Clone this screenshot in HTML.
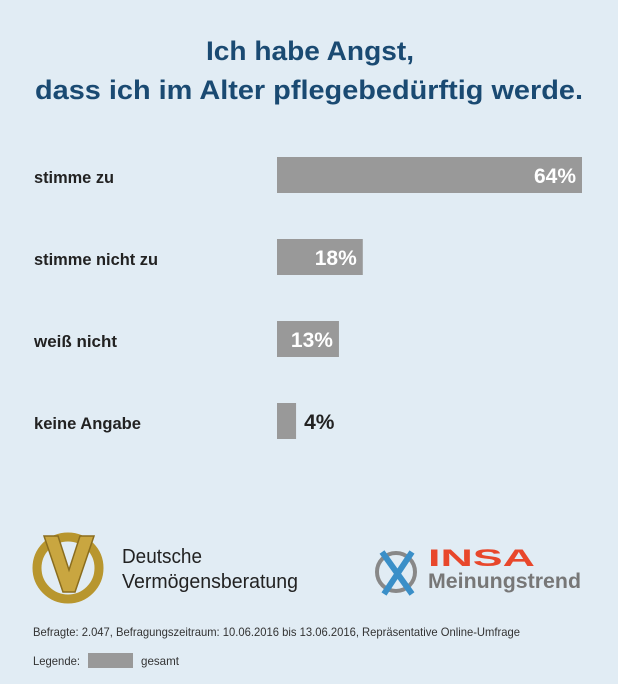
<!DOCTYPE html>
<html><head><meta charset="utf-8"><style>
html,body{margin:0;padding:0;background:#e1ecf4;}
svg{display:block;font-family:"Liberation Sans",sans-serif;}
</style></head><body>
<svg width="618" height="684" viewBox="0 0 618 684">
<rect width="618" height="684" fill="#e1ecf4"/>
<text x="310" y="60" text-anchor="middle" font-size="27" font-weight="bold" fill="#1a4a72" textLength="208" lengthAdjust="spacingAndGlyphs">Ich habe Angst,</text>
<text x="309" y="99" text-anchor="middle" font-size="27" font-weight="bold" fill="#1a4a72" textLength="548" lengthAdjust="spacingAndGlyphs">dass ich im Alter pflegebedürftig werde.</text>
<g id="bars"></g>

<g>
<circle cx="68" cy="568" r="31" fill="none" stroke="#b8962e" stroke-width="9"/>
<path d="M44 536 L58 536 L69 570 L80 536 L94 536 L75 592 L63 592 Z" fill="#c9a640" stroke="#8a6d1e" stroke-width="1.5"/>
<text x="122" y="563" font-size="20" fill="#222" textLength="80" lengthAdjust="spacingAndGlyphs">Deutsche</text>
<text x="122" y="588" font-size="20" fill="#222" textLength="176" lengthAdjust="spacingAndGlyphs">Vermögensberatung</text>
</g>
<g>
<circle cx="396" cy="572" r="19" fill="none" stroke="#888" stroke-width="4"/>
<path d="M382 552 L412 594 M412 552 L384 594" stroke="#3a8fc8" stroke-width="6"/>
<text x="428" y="566" font-size="24" font-weight="bold" fill="#e8472b" textLength="107" lengthAdjust="spacingAndGlyphs">INSA</text>
<text x="428" y="588" font-size="21" font-weight="bold" fill="#777" textLength="153" lengthAdjust="spacingAndGlyphs">Meinungstrend</text>
</g>
<text x="33" y="636" font-size="12" fill="#333" textLength="487" lengthAdjust="spacingAndGlyphs">Befragte: 2.047, Befragungszeitraum: 10.06.2016 bis 13.06.2016, Repräsentative Online-Umfrage</text>
<g>
<text x="33" y="665" font-size="12" fill="#333" textLength="47" lengthAdjust="spacingAndGlyphs">Legende:</text>
<rect x="88" y="653" width="45" height="15" fill="#999"/>
<text x="141" y="665" font-size="12" fill="#333" textLength="38" lengthAdjust="spacingAndGlyphs">gesamt</text>
</g>
</svg>
<script>
const categories = ["stimme zu","stimme nicht zu","weiß nicht","keine Angabe"];
const values = [64,18,13,4];
const valueLabels = ["64%","18%","13%","4%"];
const labelWidths = [80,124,83,107];
const x0 = 277, pxPer = 305/64, y0 = 157, step = 82, bh = 36;
const xs = v => x0 + v*pxPer;
const ys = i => y0 + i*step;
const g = document.getElementById('bars');
const NS = "http://www.w3.org/2000/svg";
categories.forEach((c,i)=>{
  const t = document.createElementNS(NS,'text');
  
  
  t.setAttribute('x',34); t.setAttribute('y',ys(i)+26);
  t.setAttribute('font-size','17'); t.setAttribute('font-weight','bold'); t.setAttribute('fill','#222');
  t.setAttribute('textLength',labelWidths[i]); t.setAttribute('lengthAdjust','spacingAndGlyphs');
  t.textContent = c; g.appendChild(t);
  const r = document.createElementNS(NS,'rect');
  
  
  r.setAttribute('x',x0); r.setAttribute('y',ys(i));
  r.setAttribute('width',xs(values[i])-x0); r.setAttribute('height',bh); r.setAttribute('fill','#999');
  g.appendChild(r);
  const v = document.createElementNS(NS,'text');
  
  
  const w = xs(values[i])-x0;
  v.setAttribute('font-size','21'); v.setAttribute('font-weight','bold');
  v.setAttribute('y',ys(i)+26);
  if (w > 50) { v.setAttribute('x',xs(values[i])-6); v.setAttribute('text-anchor','end'); v.setAttribute('fill','#fff'); }
  else { v.setAttribute('x',xs(values[i])+8); v.setAttribute('fill','#222'); }
  v.textContent = valueLabels[i]; g.appendChild(v);
});
</script>
</body></html>
